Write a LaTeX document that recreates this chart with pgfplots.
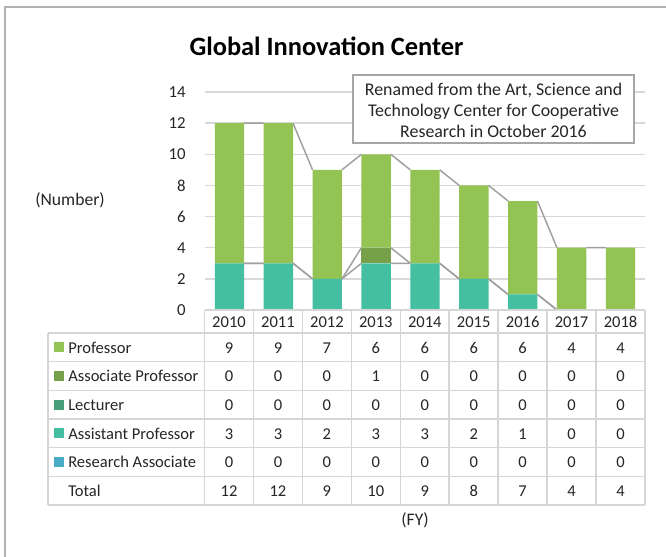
\documentclass[border=0pt]{standalone}
\usepackage{fontspec}
\setmainfont{Carlito}
\usepackage{pgfplots}
\usepackage{pgfplotstable}
\pgfplotsset{compat=1.18}

\definecolor{prof}{HTML}{92C353}
\definecolor{assoc}{HTML}{77A04A}
\definecolor{lect}{HTML}{479E78}
\definecolor{asst}{HTML}{44BFA2}
\definecolor{ra}{HTML}{4BACC6}
\definecolor{gridc}{HTML}{D9D9D9}
\definecolor{linec}{HTML}{A0A0A0}
\definecolor{tablec}{HTML}{D6D6D6}
\definecolor{txt}{HTML}{262626}

% staff by fiscal year
\pgfplotstableread{
year Prof Assoc Lect Asst RA Total
2010 9 0 0 3 0 12
2011 9 0 0 3 0 12
2012 7 0 0 2 0 9
2013 6 1 0 3 0 10
2014 6 0 0 3 0 9
2015 6 0 0 2 0 8
2016 6 0 0 1 0 7
2017 4 0 0 0 0 4
2018 4 0 0 0 0 4
}\staff

\pgfplotsset{
  frame/.style={
    scale only axis, width=330pt, height=163.5pt,
    at={(153.75pt,-232.5pt)}, anchor=south west,
    xmin=-0.5, xmax=8.5, ymin=0, ymax=14,
  },
  serline/.style={linec, line width=1.1pt, no marks, unbounded coords=jump},
}

\begin{document}
\begin{tikzpicture}[font=\fontsize{12.4}{14}\selectfont, text=txt]
\begin{scope}[x=0.75pt,y=-0.75pt]
\useasboundingbox (0,0) rectangle (666,556);
\fill[white] (0,0) rectangle (666,556);
\draw[black!30, line width=1.2pt] (5,560) -- (5,7) -- (670,7);
\end{scope}

\begin{axis}[frame,
    ybar stacked, bar width=0.6,
    ytick={0,2,...,14}, xtick=\empty,
    ymajorgrids, grid style={gridc, line width=1pt},
    axis line style={draw=none}, major tick length=0,
    yticklabel style={xshift=-11pt, font=\fontsize{12.6}{14}\selectfont},
    /pgf/number format/assume math mode=true,
]
\addplot[fill=ra, draw=none] table[x expr=\coordindex, y=RA]{\staff};
\addplot[fill=asst, draw=none] table[x expr=\coordindex, y=Asst]{\staff};
\addplot[fill=lect, draw=none] table[x expr=\coordindex, y=Lect]{\staff};
\addplot[fill=assoc, draw=none] table[x expr=\coordindex, y=Assoc]{\staff};
\addplot[fill=prof, draw=none] table[x expr=\coordindex, y=Prof]{\staff};
\end{axis}

% series lines between stacked bars
\begin{axis}[frame, hide axis]
% Assistant Professor / Lecturer cumulative
\addplot[serline] coordinates {(0.3,3) (0.7,3) (0.7,nan) (1.3,3) (1.7,2) (1.7,nan) (2.3,2) (2.7,3) (2.7,nan)
  (3.3,3) (3.7,3) (3.7,nan) (4.3,3) (4.7,2) (4.7,nan) (5.3,2) (5.7,1) (5.7,nan) (6.3,1) (6.7,0) (6.7,nan) (7.3,0) (7.7,0)};
% Associate Professor cumulative
\addplot[serline] coordinates {(0.3,3) (0.7,3) (0.7,nan) (1.3,3) (1.7,2) (1.7,nan) (2.3,2) (2.7,4) (2.7,nan)
  (3.3,4) (3.7,3) (3.7,nan) (4.3,3) (4.7,2) (4.7,nan) (5.3,2) (5.7,1) (5.7,nan) (6.3,1) (6.7,0) (6.7,nan) (7.3,0) (7.7,0)};
% Professor cumulative (total)
\addplot[serline] coordinates {(0.3,12) (0.7,12) (0.7,nan) (1.3,12) (1.7,9) (1.7,nan) (2.3,9) (2.7,10) (2.7,nan)
  (3.3,10) (3.7,9) (3.7,nan) (4.3,9) (4.7,8) (4.7,nan) (5.3,8) (5.7,7) (5.7,nan) (6.3,7) (6.7,4) (6.7,nan) (7.3,4) (7.7,4)};
\end{axis}

\begin{scope}[x=0.75pt,y=-0.75pt]
% title and axis notes
\node[font=\fontsize{19.8}{22}\selectfont\bfseries, text=black] at (326.5,46) {Global Innovation Center};
\node[font=\fontsize{13.2}{15}\selectfont] at (70,200) {(Number)};
\node[font=\fontsize{13.2}{15}\selectfont] at (415,520) {(FY)};
% annotation box
\draw[black!35, line width=1.1pt, fill=white] (353,75) rectangle (634,143);
\node[align=center, font=\fontsize{13.4}{15.75}\selectfont] at (493.5,110)
  {Renamed from the Art, Science and\\Technology Center for Cooperative\\Research in October 2016};

% data table grid
\begin{scope}[tablec, line width=1.1pt]
\draw (204.5,310) -- (645,310);
\foreach \yy in {333,361.7,390.3,419,447.7,476.3,505} \draw (48,\yy) -- (645,\yy);
\draw (48,333) -- (48,505);
\foreach \k in {0,...,9} \draw ({204.5+48.94*\k},310) -- ({204.5+48.94*\k},505);
\end{scope}

% years
\foreach \r in {0,...,8} {
  \pgfplotstablegetelem{\r}{year}\of\staff
  \node at ({229+48.94*\r},322) {\pgfplotsretval};
}
% row labels and values
\foreach \c/\lab/\col [count=\j from 0] in {Prof/Professor/prof,Assoc/Associate Professor/assoc,
    Lect/Lecturer/lect,Asst/Assistant Professor/asst,RA/Research Associate/ra,Total/Total/} {
  \ifx\col\empty\else
    \fill[\col] (54,{342.3+28.65*\j}) rectangle (64,{352.3+28.65*\j});
  \fi
  \node[anchor=west, inner sep=0pt] at (68,{347.5+28.65*\j}) {\lab};
  \foreach \r in {0,...,8} {
    \pgfplotstablegetelem{\r}{\c}\of\staff
    \node at ({229+48.94*\r},{348+28.65*\j}) {\pgfplotsretval};
  }
}
\end{scope}
\end{tikzpicture}
\end{document}
